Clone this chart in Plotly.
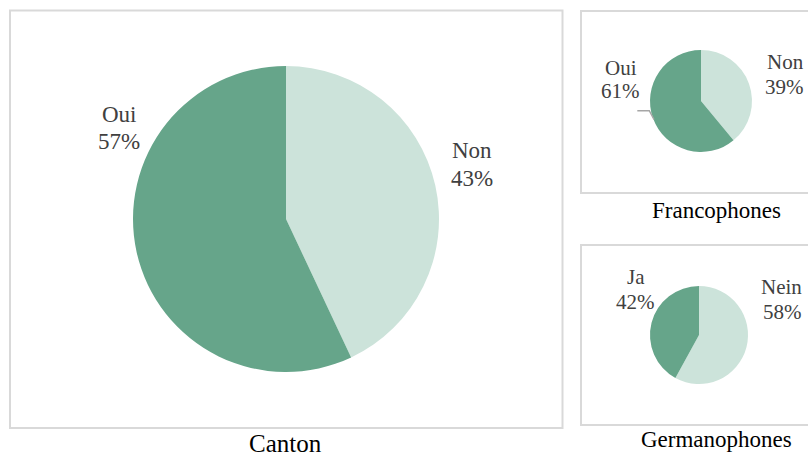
import plotly.graph_objects as go

W, H = 808, 456

# ---- data ----
canton_labels = ["Non", "Oui"]
canton_values = [43, 57]
franco_labels = ["Non", "Oui"]
franco_values = [39, 61]
germano_labels = ["Nein", "Ja"]
germano_values = [58, 42]
titles = ["Canton", "Francophones", "Germanophones"]

LIGHT = "#CCE3DA"
DARK = "#66A58A"
FONT = "Liberation Serif"
LABEL_COLOR = "#404040"
BORDER = "#D9D9D9"


def px(x):
    return x / W


def py(y):
    return 1 - y / H


def dom(cx, cy, r):
    return dict(x=[px(cx - r), px(cx + r)], y=[py(cy + r), py(cy - r)])


fig = go.Figure()

pies = [
    (canton_labels, canton_values, (286, 219, 153)),
    (franco_labels, franco_values, (701, 101, 51)),
    (germano_labels, germano_values, (699, 335, 49)),
]
for labels, values, (cx, cy, r) in pies:
    fig.add_trace(go.Pie(
        labels=labels, values=values, sort=False, direction="clockwise",
        rotation=0, textinfo="none", showlegend=False,
        marker=dict(colors=[LIGHT, DARK], line=dict(width=0)),
        domain=dom(cx, cy, r),
    ))

annotations = []


def label(text, x, y_base, size, color=LABEL_COLOR):
    # y_base: baseline in px; put box middle approx 0.3em above baseline
    annotations.append(dict(
        text=text, x=px(x), y=py(y_base - 0.30 * size), xref="paper", yref="paper",
        xanchor="center", yanchor="middle", showarrow=False,
        font=dict(family=FONT, size=size, color=color),
    ))


# Canton labels (Non, Oui)
label(canton_labels[1], 119.2, 121.7, 23)
label(f"{canton_values[1]}%", 119.0, 148.5, 23)
label(canton_labels[0], 471.7, 157.3, 23)
label(f"{canton_values[0]}%", 471.7, 185.5, 23)

# Francophones
label(franco_labels[1], 620.5, 74.0, 21)
label(f"{franco_values[1]}%", 620.7, 97.5, 21)
label(franco_labels[0], 785.5, 68.3, 21)
label(f"{franco_values[0]}%", 784.7, 92.8, 21)

# Germanophones
label(germano_labels[1], 636.0, 283.3, 21)
label(f"{germano_values[1]}%", 635.0, 307.8, 21)
label(germano_labels[0], 781.7, 293.3, 21)
label(f"{germano_values[0]}%", 782.0, 317.8, 21)

# Titles
label(titles[0], 285.5, 451.0, 25, "#000000")
label(titles[1], 716.5, 217.0, 23, "#000000")
label(titles[2], 716.7, 446.7, 23, "#000000")

shapes = []
for (x0, y0, x1, y1) in [(10, 10.5, 562.5, 428), (581, 11, 830, 193), (581, 245, 830, 425)]:
    shapes.append(dict(type="rect", xref="paper", yref="paper",
                       x0=px(x0), x1=px(x1), y0=py(y1), y1=py(y0),
                       line=dict(color=BORDER, width=2), fillcolor="rgba(0,0,0,0)", layer="below"))

# leader line for Francophones "Oui"
lp = [(637.3, 110.7), (649.3, 110.7), (654.0, 119.5)]
path = "M " + " L ".join(f"{px(a):.5f},{py(b):.5f}" for a, b in lp)
shapes.append(dict(type="path", xref="paper", yref="paper", path=path,
                   line=dict(color="#A6A6A6", width=1.5)))

fig.update_layout(
    width=W, height=H, margin=dict(l=0, r=0, t=0, b=0),
    paper_bgcolor="white", plot_bgcolor="white",
    annotations=annotations, shapes=shapes,
)

fig.write_html("out.html")
